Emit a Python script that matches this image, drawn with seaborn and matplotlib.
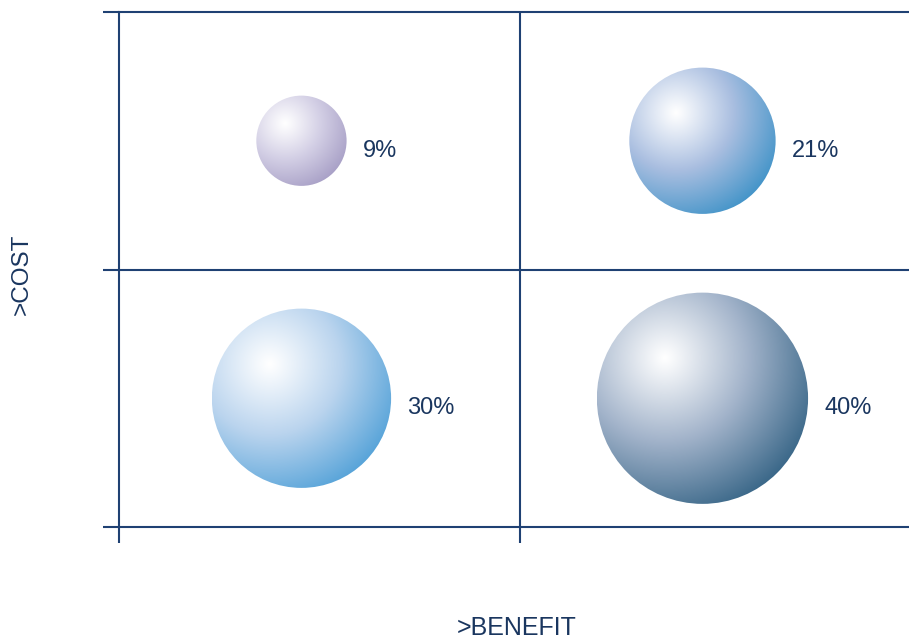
import numpy as np
import matplotlib
matplotlib.use("Agg")
import matplotlib.pyplot as plt
from matplotlib.patches import Ellipse
import seaborn as sns

# Share of projects in each cost/benefit quadrant
labels = ["9%", "21%", "30%", "40%"]
shares = [9, 21, 30, 40]
benefit = ["low", "high", "low", "high"]
cost = ["high", "high", "low", "low"]

# Sphere shading: highlight, body, shadowed rim
sphere_colors = [
    ["#ffffff", "#d3cfe5", "#a9a1c7"],
    ["#ffffff", "#a9bee0", "#4595c9"],
    ["#ffffff", "#bad4ee", "#58a4d9"],
    ["#ffffff", "#a2b3ca", "#3b6889"],
]

sns.set_theme(style="white")
plt.rcParams["font.family"] = ["Liberation Sans", "DejaVu Sans"]

NAVY = "#1a365f"
LINE = "#1f4173"
W, H = 909, 640
fig = plt.figure(figsize=(W / 100, H / 100), dpi=100)
left, right, bottom, top = 119, 909, 527, 12
ax = fig.add_axes([left / W, 1 - bottom / H, (right - left) / W, (bottom - top) / H])

# axis limits in quadrant units: x cell = 401 px, y cell = half the height
px_x = 401.0
xmax = (right - left) / px_x
px_y = (bottom - top) / 2.0

lw = 1.5
for side in ["left", "bottom", "top"]:
    ax.spines[side].set_visible(True)
    ax.spines[side].set_color(LINE)
    ax.spines[side].set_linewidth(lw)
ax.spines["right"].set_visible(False)
ax.set_xticks([0, 1])
ax.set_yticks([0, 1, 2])
ax.tick_params(direction="out", length=16 * 0.72, width=lw, color=LINE,
               labelbottom=False, labelleft=False, bottom=True, left=True)
ax.axhline(1, color=LINE, lw=lw)
ax.axvline(1, color=LINE, lw=lw)

levels = {"low": 0, "high": 1}
x_nudge = -0.045
hx, hy = -0.36, 0.38
n = 400
u, v = np.meshgrid(np.linspace(-1, 1, n), np.linspace(-1, 1, n))
dist = np.hypot(u - hx, v - hy) / (1 + np.hypot(hx, hy))
dist = np.clip(dist, 0, 1) ** 1.05

for lab, share, b, c, cols in zip(labels, shares, benefit, cost, sphere_colors):
    cx = levels[b] + 0.5 + x_nudge
    cy = levels[c] + 0.5
    r = 12.9 * share ** 0.57
    rx, ry = r / px_x, r / px_y
    cmap = sns.blend_palette(cols, n_colors=256, as_cmap=True)
    img = ax.imshow(dist, cmap=cmap, vmin=0, vmax=1, origin="lower",
                    extent=(cx - rx, cx + rx, cy - ry, cy + ry),
                    aspect="auto", interpolation="bilinear", zorder=2)
    clip = Ellipse((cx, cy), 2 * rx, 2 * ry, transform=ax.transData,
                   facecolor="none", edgecolor="none")
    ax.add_patch(clip)
    img.set_clip_path(clip)
    ax.annotate(lab, xy=(cx + rx, cy), xytext=(16 * 0.72, -10 * 0.72),
                textcoords="offset points", ha="left", va="center",
                fontsize=17, color=NAVY, zorder=3)

ax.set_xlim(0, xmax)
ax.set_ylim(0, 2)

fig.text(22 / W, 1 - 274 / H, ">COST", rotation=90, ha="center", va="center",
         fontsize=17.5, color=NAVY)
fig.text(517 / W, 1 - 628 / H, ">BENEFIT", ha="center", va="center",
         fontsize=18, color=NAVY)

fig.savefig("out.png", dpi=100)
